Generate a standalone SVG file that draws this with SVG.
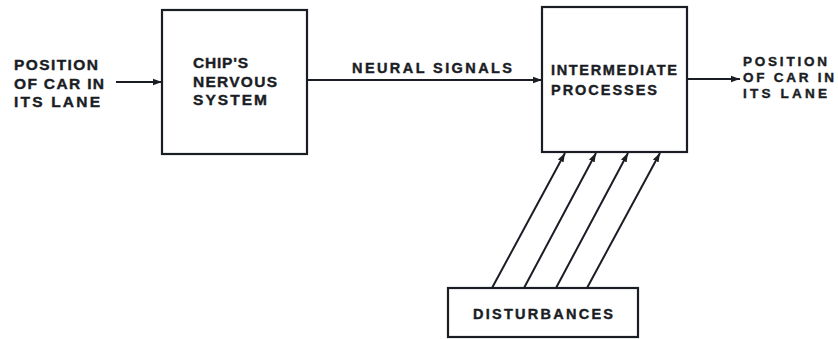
<svg xmlns="http://www.w3.org/2000/svg" width="838" height="339" viewBox="0 0 838 339">
<style>
.box{fill:#fff;stroke:#1a1d24;stroke-width:2.2}
.ln{fill:none;stroke:#1a1d24;stroke-width:2}
text{font-family:"Liberation Sans",Arial,sans-serif;font-weight:bold;fill:#1a1d24;stroke:#1a1d24;stroke-width:0.4}
.l{font-size:15.5px}
.s{font-size:14.5px}
.r{font-size:13.5px}
</style>
<defs>
<marker id="ah" markerUnits="userSpaceOnUse" markerWidth="10" markerHeight="8" refX="9" refY="4" orient="auto">
<path d="M0,0.8 L9,4 L0,7.2 Z" fill="#1a1d24"/>
</marker>
</defs>
<rect width="838" height="339" fill="#fff"/>
<g id="input-label">
<text class="l" x="14" y="70" textLength="84" lengthAdjust="spacing">POSITION</text>
<text class="l" x="14" y="88.5" textLength="90" lengthAdjust="spacing">OF CAR IN</text>
<text class="l" x="14" y="106.5" textLength="86" lengthAdjust="spacing">ITS LANE</text>
</g>
<g id="chip">
<rect class="box" x="162" y="10" width="145" height="144"/>
<text class="l" x="193" y="68" textLength="55" lengthAdjust="spacing">CHIP'S</text>
<text class="l" x="193" y="86.5" textLength="84" lengthAdjust="spacing">NERVOUS</text>
<text class="l" x="193" y="105" textLength="74" lengthAdjust="spacing">SYSTEM</text>
</g>
<g id="intermediate">
<rect class="box" x="542" y="7" width="145" height="145"/>
<text class="s" x="551" y="75" textLength="126" lengthAdjust="spacing">INTERMEDIATE</text>
<text class="s" x="551" y="95" textLength="106" lengthAdjust="spacing">PROCESSES</text>
</g>
<g id="disturbances">
<rect class="box" x="448" y="288" width="190" height="49"/>
<text class="s" x="473" y="319" textLength="140" lengthAdjust="spacing">DISTURBANCES</text>
</g>
<g id="output-label">
<text class="r" x="743" y="66" textLength="84" lengthAdjust="spacing">POSITION</text>
<text class="r" x="743" y="82" textLength="91" lengthAdjust="spacing">OF CAR IN</text>
<text class="r" x="743" y="98" textLength="84" lengthAdjust="spacing">ITS LANE</text>
</g>
<g id="connectors">
<line class="ln" x1="116" y1="82" x2="162" y2="82" marker-end="url(#ah)"/>
<line class="ln" x1="307" y1="80" x2="542" y2="80" marker-end="url(#ah)"/>
<text class="s" x="352" y="73" textLength="160" lengthAdjust="spacing">NEURAL SIGNALS</text>
<line class="ln" x1="687" y1="79" x2="740" y2="79" marker-end="url(#ah)"/>
<line class="ln" x1="492" y1="288" x2="565" y2="153" marker-end="url(#ah)"/>
<line class="ln" x1="524" y1="288" x2="596" y2="153" marker-end="url(#ah)"/>
<line class="ln" x1="556" y1="288" x2="628" y2="153" marker-end="url(#ah)"/>
<line class="ln" x1="587" y1="288" x2="660" y2="153" marker-end="url(#ah)"/>
</g>
</svg>
